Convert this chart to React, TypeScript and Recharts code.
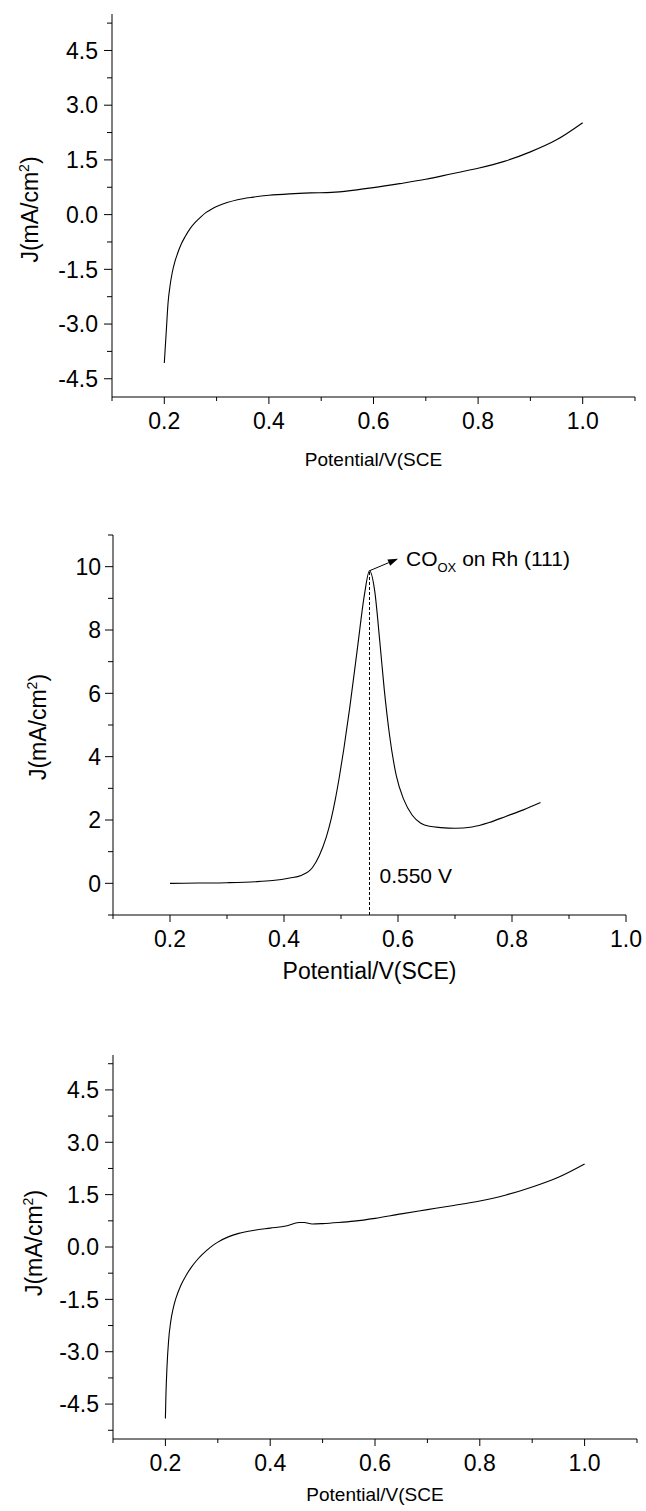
import {
  LineChart,
  Line,
  XAxis,
  YAxis,
  ReferenceLine,
  ReferenceDot,
  Label,
} from 'recharts';

const FONT = '"Liberation Sans", Arial, Helvetica, sans-serif';

// panel 1 (top) - potential in V vs SCE, current density in mA/cm2
const potential1 = [
  0.2, 0.202, 0.204, 0.207, 0.211, 0.215, 0.22, 0.225, 0.232, 0.24, 0.25, 0.26,
  0.27, 0.28, 0.29, 0.3, 0.32, 0.34, 0.37, 0.4, 0.44, 0.48, 0.52, 0.56, 0.6,
  0.65, 0.7, 0.75, 0.8, 0.85, 0.9, 0.95, 1.0,
];
const current1 = [
  -4.07, -3.6, -3.15, -2.45, -1.95, -1.6, -1.3, -1.08, -0.82, -0.6, -0.37, -0.2,
  -0.06, 0.06, 0.15, 0.22, 0.33, 0.41, 0.48, 0.53, 0.57, 0.595, 0.61, 0.665, 0.74,
  0.85, 0.97, 1.12, 1.27, 1.46, 1.72, 2.05, 2.52,
];

// panel 2 (middle) - CO stripping peak
const potential2 = [
  0.2, 0.25, 0.3, 0.35, 0.38, 0.41, 0.43, 0.45, 0.462, 0.474, 0.483, 0.49,
  0.497, 0.505, 0.515, 0.529, 0.541, 0.55, 0.559, 0.568, 0.576, 0.585, 0.597,
  0.61, 0.625, 0.64, 0.655, 0.675, 0.7, 0.73, 0.76, 0.79, 0.82, 0.85,
];
const current2 = [
  0.0, 0.01, 0.02, 0.05, 0.09, 0.17, 0.25, 0.5, 0.88, 1.45, 2.05, 2.65, 3.35, 4.25,
  5.5, 7.45, 9.1, 9.87, 9.25, 7.65, 6.1, 4.7, 3.4, 2.65, 2.15, 1.9, 1.8, 1.76,
  1.74, 1.78, 1.92, 2.12, 2.32, 2.55,
];

// panel 3 (bottom)
const potential3 = [
  0.2, 0.201, 0.203, 0.206, 0.21, 0.215, 0.22, 0.23, 0.24, 0.25, 0.26, 0.27, 0.28,
  0.29, 0.3, 0.32, 0.34, 0.37, 0.4, 0.43, 0.455, 0.465, 0.48, 0.5, 0.53, 0.56,
  0.6, 0.65, 0.7, 0.75, 0.8, 0.85, 0.9, 0.95, 1.0,
];
const current3 = [
  -4.91, -4.25, -3.45, -2.7, -2.15, -1.75, -1.47, -1.08, -0.8, -0.57, -0.38, -0.22,
  -0.08, 0.04, 0.14, 0.29, 0.39, 0.48, 0.54, 0.6, 0.7, 0.7, 0.66, 0.67, 0.7, 0.74,
  0.82, 0.95, 1.07, 1.19, 1.32, 1.49, 1.72, 2.0, 2.38,
];

// ticks
const xMajor = [0.2, 0.4, 0.6, 0.8, 1.0];
const xMinorWide = [0.1, 0.3, 0.5, 0.7, 0.9, 1.1];
const xMinorMid = [0.1, 0.3, 0.5, 0.7, 0.9];
const yMajorJ = [-4.5, -3.0, -1.5, 0.0, 1.5, 3.0, 4.5];
const yMinorTop = [-3.75, -2.25, -0.75, 0.75, 2.25, 3.75, 5.25];
const yMinorBottom = [-5.25, -3.75, -2.25, -0.75, 0.75, 2.25, 3.75, 5.25];
const yMajorPeak = [0, 2, 4, 6, 8, 10];
const yMinorPeak = [-1, 1, 3, 5, 7, 9, 11];

// annotation
const peakPotential = 0.55;
const peakCurrent = 9.87;
const arrowTip = { x: 0.6, y: 10.25 };
const peakText = '0.550 V';

const xLabelShort = 'Potential/V(SCE';
const xLabelFull = 'Potential/V(SCE)';

const toRows = (xs: number[], ys: number[]) => xs.map((x, i) => ({ x, y: ys[i] }));
const merge = (a: number[], b: number[]) => [...a, ...b].sort((p, q) => p - q);
const inList = (list: number[], v: number) => list.some((m) => Math.abs(m - v) < 1e-6);

function makeXTick(majors: number[]) {
  return (props: any) => {
    const { x, y, payload } = props;
    const big = inList(majors, payload.value);
    return (
      <g>
        <line x1={x} x2={x} y1={y} y2={y + (big ? 7 : 4)} stroke="#000" strokeWidth={1} />
        {big && (
          <text x={x} y={y + 32} textAnchor="middle" fontSize={23} fontFamily={FONT} fill="#000">
            {payload.value.toFixed(1)}
          </text>
        )}
      </g>
    );
  };
}

function makeYTick(majors: number[], gap: number, digits: number) {
  return (props: any) => {
    const { x, y, payload } = props;
    const big = inList(majors, payload.value);
    return (
      <g>
        <line x1={x - (big ? 8 : 5)} x2={x} y1={y} y2={y} stroke="#000" strokeWidth={1} />
        {big && (
          <text x={x - gap} y={y} dy="0.36em" textAnchor="end" fontSize={23} fontFamily={FONT} fill="#000">
            {payload.value.toFixed(digits)}
          </text>
        )}
      </g>
    );
  };
}

function yTitle(baseX: number, shift: number) {
  return (props: any) => {
    const vb = props.viewBox;
    const cy = vb.y + vb.height / 2 + shift;
    return (
      <text
        transform={`translate(${baseX}, ${cy}) rotate(-90)`}
        textAnchor="middle"
        fontSize={23}
        fontFamily={FONT}
        fill="#000"
      >
        J(mA/cm<tspan dy={-9} fontSize={14}>2</tspan>
        <tspan dy={9}>)</tspan>
      </text>
    );
  };
}

function xTitle(text: string, off: number, size: number) {
  return (props: any) => {
    const vb = props.viewBox;
    return (
      <text x={vb.x + vb.width / 2} y={vb.y + off} textAnchor="middle" fontSize={size} fontFamily={FONT} fill="#000">
        {text}
      </text>
    );
  };
}

const ArrowShape = (p: any) => {
  const { x1, y1, x2, y2 } = p;
  const ang = Math.atan2(y2 - y1, x2 - x1);
  const len = 10;
  const half = 3.5;
  const bx = x2 - len * Math.cos(ang);
  const by = y2 - len * Math.sin(ang);
  const nx = -Math.sin(ang) * half;
  const ny = Math.cos(ang) * half;
  return (
    <g>
      <line x1={x1} y1={y1} x2={bx} y2={by} stroke="#000" strokeWidth={1} />
      <polygon points={`${x2},${y2} ${bx + nx},${by + ny} ${bx - nx},${by - ny}`} fill="#000" />
      <text x={x2 + 8} y={y2 + 7} fontSize={21} fontFamily={FONT} fill="#000">
        CO<tspan dy={6} fontSize={13}>OX</tspan>
        <tspan dy={-6}> on Rh (111)</tspan>
      </text>
    </g>
  );
};

const peakLabel = (props: any) => {
  const vb = props.viewBox;
  return (
    <text x={vb.x + 10} y={vb.y} fontSize={21} fontFamily={FONT} fill="#000">
      {peakText}
    </text>
  );
};

const axisStyle = { stroke: '#000', strokeWidth: 1 };

export default function App() {
  const data1 = toRows(potential1, current1);
  const data2 = toRows(potential2, current2);
  const data3 = toRows(potential3, current3);

  return (
    <div style={{ position: 'absolute', left: 0, top: 0, width: 646, height: 1511, background: '#fff' }}>
      <div style={{ position: 'absolute', left: 0, top: 0 }}>
        <LineChart width={646} height={480} data={data1} margin={{ top: 14, right: 11, bottom: 0, left: 0 }}>
          <XAxis
            dataKey="x"
            type="number"
            domain={[0.1, 1.1]}
            ticks={merge(xMajor, xMinorWide)}
            interval={0}
            tickSize={0}
            tickMargin={0}
            tickLine={false}
            axisLine={axisStyle}
            tick={makeXTick(xMajor)}
            height={83}
          >
            <Label content={xTitle(xLabelShort, 69, 19)} />
          </XAxis>
          <YAxis
            type="number"
            domain={[-5, 5.5]}
            ticks={merge(yMajorJ, yMinorTop)}
            interval={0}
            tickSize={0}
            tickMargin={0}
            tickLine={false}
            axisLine={axisStyle}
            tick={makeYTick(yMajorJ, 14, 1)}
            width={112}
          >
            <Label content={yTitle(38, 4)} />
          </YAxis>
          <Line dataKey="y" type="monotone" stroke="#000" strokeWidth={1.1} dot={false} isAnimationActive={false} />
        </LineChart>
      </div>

      <div style={{ position: 'absolute', left: 0, top: 480 }}>
        <LineChart width={646} height={520} data={data2} margin={{ top: 55, right: 20, bottom: 0, left: 0 }}>
          <XAxis
            dataKey="x"
            type="number"
            domain={[0.1, 1.0]}
            ticks={merge(xMajor, xMinorMid)}
            interval={0}
            tickSize={0}
            tickMargin={0}
            tickLine={false}
            axisLine={axisStyle}
            tick={makeXTick(xMajor)}
            height={85}
          >
            <Label content={xTitle(xLabelFull, 64, 23)} />
          </XAxis>
          <YAxis
            type="number"
            domain={[-1, 11]}
            ticks={merge(yMajorPeak, yMinorPeak)}
            interval={0}
            tickSize={0}
            tickMargin={0}
            tickLine={false}
            axisLine={axisStyle}
            tick={makeYTick(yMajorPeak, 12, 0)}
            width={113}
          >
            <Label content={yTitle(46, 2)} />
          </YAxis>
          <ReferenceLine
            segment={[
              { x: peakPotential, y: -1 },
              { x: peakPotential, y: peakCurrent },
            ]}
            stroke="#000"
            strokeWidth={1}
            strokeDasharray="3 2"
          />
          <ReferenceLine
            segment={[
              { x: peakPotential, y: peakCurrent },
              { x: arrowTip.x, y: arrowTip.y },
            ]}
            shape={ArrowShape}
          />
          <ReferenceDot x={peakPotential} y={0} r={0} fill="none" stroke="none" label={peakLabel} />
          <Line dataKey="y" type="monotone" stroke="#000" strokeWidth={1.1} dot={false} isAnimationActive={false} />
        </LineChart>
      </div>

      <div style={{ position: 'absolute', left: 0, top: 1000 }}>
        <LineChart width={646} height={511} data={data3} margin={{ top: 55, right: 9, bottom: 0, left: 0 }}>
          <XAxis
            dataKey="x"
            type="number"
            domain={[0.1, 1.1]}
            ticks={merge(xMajor, xMinorWide)}
            interval={0}
            tickSize={0}
            tickMargin={0}
            tickLine={false}
            axisLine={axisStyle}
            tick={makeXTick(xMajor)}
            height={72}
          >
            <Label content={xTitle(xLabelShort, 62, 19)} />
          </XAxis>
          <YAxis
            type="number"
            domain={[-5.5, 5.5]}
            ticks={merge(yMajorJ, yMinorBottom)}
            interval={0}
            tickSize={0}
            tickMargin={0}
            tickLine={false}
            axisLine={axisStyle}
            tick={makeYTick(yMajorJ, 14, 1)}
            width={113}
          >
            <Label content={yTitle(42, -4)} />
          </YAxis>
          <Line dataKey="y" type="monotone" stroke="#000" strokeWidth={1.1} dot={false} isAnimationActive={false} />
        </LineChart>
      </div>
    </div>
  );
}
